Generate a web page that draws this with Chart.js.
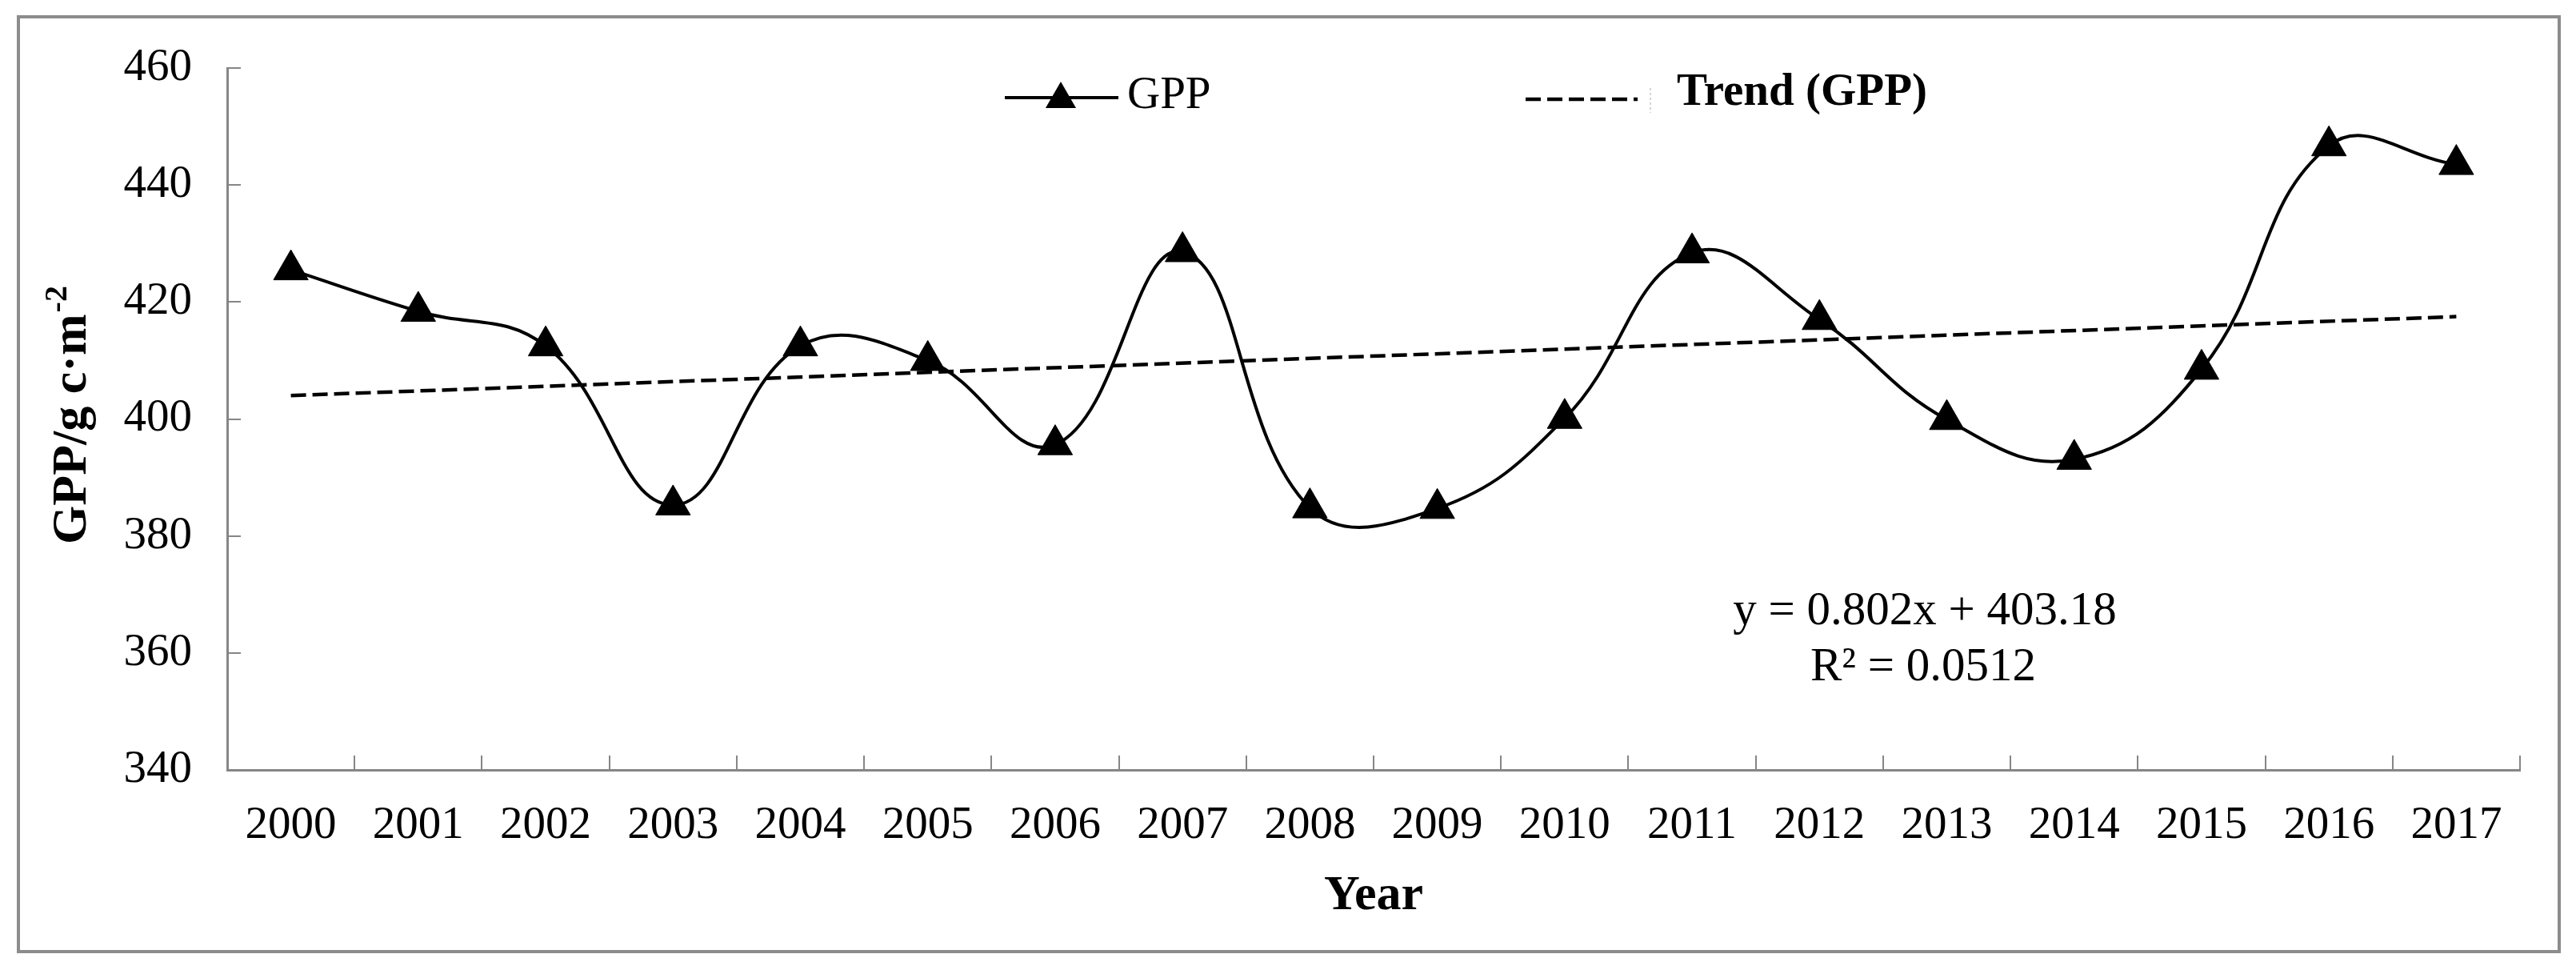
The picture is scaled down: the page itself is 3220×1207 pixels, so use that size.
<!DOCTYPE html>
<html>
<head>
<meta charset="utf-8">
<script src="https://cdn.jsdelivr.net/npm/chart.js@4.4.1/dist/chart.umd.min.js"></script>
<style>
  html, body { margin: 0; padding: 0; background: #fff; }
  canvas { display: block; }
</style>
</head>
<body>
<canvas id="gppChart" width="3220" height="1207"></canvas>
<script>
// Data
const years = ['2000', '2001', '2002', '2003', '2004', '2005', '2006', '2007', '2008',
               '2009', '2010', '2011', '2012', '2013', '2014', '2015', '2016', '2017'];
const gppValues = [425.5, 418.4, 412.5, 385.3, 412.5, 410.0, 395.6, 428.6, 384.8,
                   384.7, 400.1, 428.4, 417.0, 399.9, 393.1, 408.5, 446.7, 443.5];
// linear trend: only the two ends, the line is drawn straight between them
const trendValues = [404.0, null, null, null, null, null, null, null, null,
                     null, null, null, null, null, null, null, null, 417.5];
const yMin = 340;
const yMax = 460;
const yStep = 20;
const equationLines = ['y = 0.802x + 403.18', 'R\u00b2 = 0.0512'];

const SERIF = '"Liberation Serif", "Times New Roman", serif';
const AXIS_GREY = '#868686';

function triangle(ctx, x, y, r) {
    ctx.beginPath();
    ctx.moveTo(x, y - r);
    ctx.lineTo(x + r * 0.866, y + r * 0.5);
    ctx.lineTo(x - r * 0.866, y + r * 0.5);
    ctx.closePath();
    ctx.fill();
}

const decorations = {
    id: 'decorations',
    beforeDraw(chart) {
        const ctx = chart.ctx;
        ctx.save();
        ctx.fillStyle = '#fff';
        ctx.fillRect(0, 0, chart.width, chart.height);
        ctx.restore();
    },
    afterDraw(chart) {
        const ctx = chart.ctx;
        const area = chart.chartArea;
        ctx.save();

        // outer frame
        ctx.strokeStyle = '#8c8c8c';
        ctx.lineWidth = 4;
        ctx.strokeRect(23, 21, 3176, 1168);

        // y axis title with superscript
        ctx.fillStyle = '#000';
        ctx.translate(91, (area.top + area.bottom) / 2 - 4);
        ctx.rotate(-Math.PI / 2);
        ctx.textBaseline = 'middle';
        ctx.textAlign = 'left';
        const main = 'GPP/g c\u00b7m';
        ctx.font = 'bold 62px ' + SERIF;
        const wMain = ctx.measureText(main).width;
        ctx.font = 'bold 40px ' + SERIF;
        const wSup = ctx.measureText('-2').width;
        const start = -(wMain + wSup) / 2;
        ctx.font = 'bold 62px ' + SERIF;
        ctx.fillText(main, start, 0);
        ctx.font = 'bold 40px ' + SERIF;
        ctx.fillText('-2', start + wMain + 2, -18);
        ctx.setTransform(1, 0, 0, 1, 0, 0);

        // legend
        ctx.strokeStyle = '#000';
        ctx.fillStyle = '#000';
        ctx.lineWidth = 4;
        ctx.beginPath();
        ctx.moveTo(1256, 122);
        ctx.lineTo(1398, 122);
        ctx.stroke();
        triangle(ctx, 1326, 124, 22);
        ctx.font = '57px ' + SERIF;
        ctx.textBaseline = 'middle';
        ctx.textAlign = 'left';
        ctx.fillText('GPP', 1409, 120);

        ctx.lineWidth = 4.5;
        ctx.setLineDash([19, 8]);
        ctx.beginPath();
        ctx.moveTo(1907, 124);
        ctx.lineTo(2047, 124);
        ctx.stroke();
        ctx.strokeStyle = '#c8c8c8';
        ctx.lineWidth = 1.5;
        ctx.setLineDash([3, 3]);
        ctx.beginPath();
        ctx.moveTo(2063, 110);
        ctx.lineTo(2063, 141);
        ctx.stroke();
        ctx.setLineDash([]);
        ctx.font = 'bold 57px ' + SERIF;
        ctx.fillText('Trend (GPP)', 2096, 116);

        // regression equation
        ctx.font = '59px ' + SERIF;
        ctx.textAlign = 'center';
        ctx.fillText(equationLines[0], 2406, 764);
        ctx.fillText(equationLines[1], 2404, 834);

        ctx.restore();
    }
};

const chartCtx = document.getElementById('gppChart').getContext('2d');
const gppChart = new Chart(chartCtx, {
    type: 'line',
    data: {
        labels: years,
        datasets: [
            {
                label: 'GPP',
                data: gppValues,
                borderColor: '#000',
                backgroundColor: '#000',
                borderWidth: 4,
                tension: 0.42,
                pointStyle: 'triangle',
                pointRadius: 25,
                pointHoverRadius: 25,
                pointBorderWidth: 1,
                fill: false,
                order: 1
            },
            {
                label: 'Trend (GPP)',
                data: trendValues,
                borderColor: '#000',
                borderWidth: 4.5,
                borderDash: [19, 8],
                pointRadius: 0,
                spanGaps: true,
                fill: false,
                order: 2
            }
        ]
    },
    options: {
        responsive: false,
        animation: false,
        devicePixelRatio: 1,
        layout: { padding: { left: 0, top: 85, right: 70, bottom: 0 } },
        plugins: {
            legend: { display: false },
            tooltip: { enabled: false }
        },
        scales: {
            x: {
                offset: true,
                grid: {
                    offset: true,
                    drawOnChartArea: false,
                    drawTicks: true,
                    tickLength: -18,
                    color: AXIS_GREY,
                    lineWidth: 2
                },
                border: { display: true, color: AXIS_GREY, width: 3 },
                ticks: {
                    color: '#000',
                    padding: 54,
                    maxRotation: 0,
                    autoSkip: false,
                    font: { family: SERIF, size: 57 }
                },
                title: {
                    display: true,
                    text: 'Year',
                    color: '#000',
                    font: { family: SERIF, size: 62, weight: 'bold' },
                    padding: { top: 0, bottom: 50 }
                },
                afterFit(scale) {
                    scale.height = 245;
                    scale.paddingLeft = 0;
                    scale.paddingRight = 0;
                }
            },
            y: {
                min: yMin,
                max: yMax,
                grid: {
                    drawOnChartArea: false,
                    drawTicks: true,
                    tickLength: -17,
                    color: AXIS_GREY,
                    lineWidth: 2
                },
                border: { display: true, color: AXIS_GREY, width: 3 },
                ticks: {
                    stepSize: yStep,
                    color: '#000',
                    padding: 61,
                    font: { family: SERIF, size: 57 }
                },
                afterFit(scale) {
                    scale.width = 284;
                    scale.paddingTop = 0;
                    scale.paddingBottom = 0;
                }
            }
        }
    },
    plugins: [decorations]
});
</script>
</body>
</html>
